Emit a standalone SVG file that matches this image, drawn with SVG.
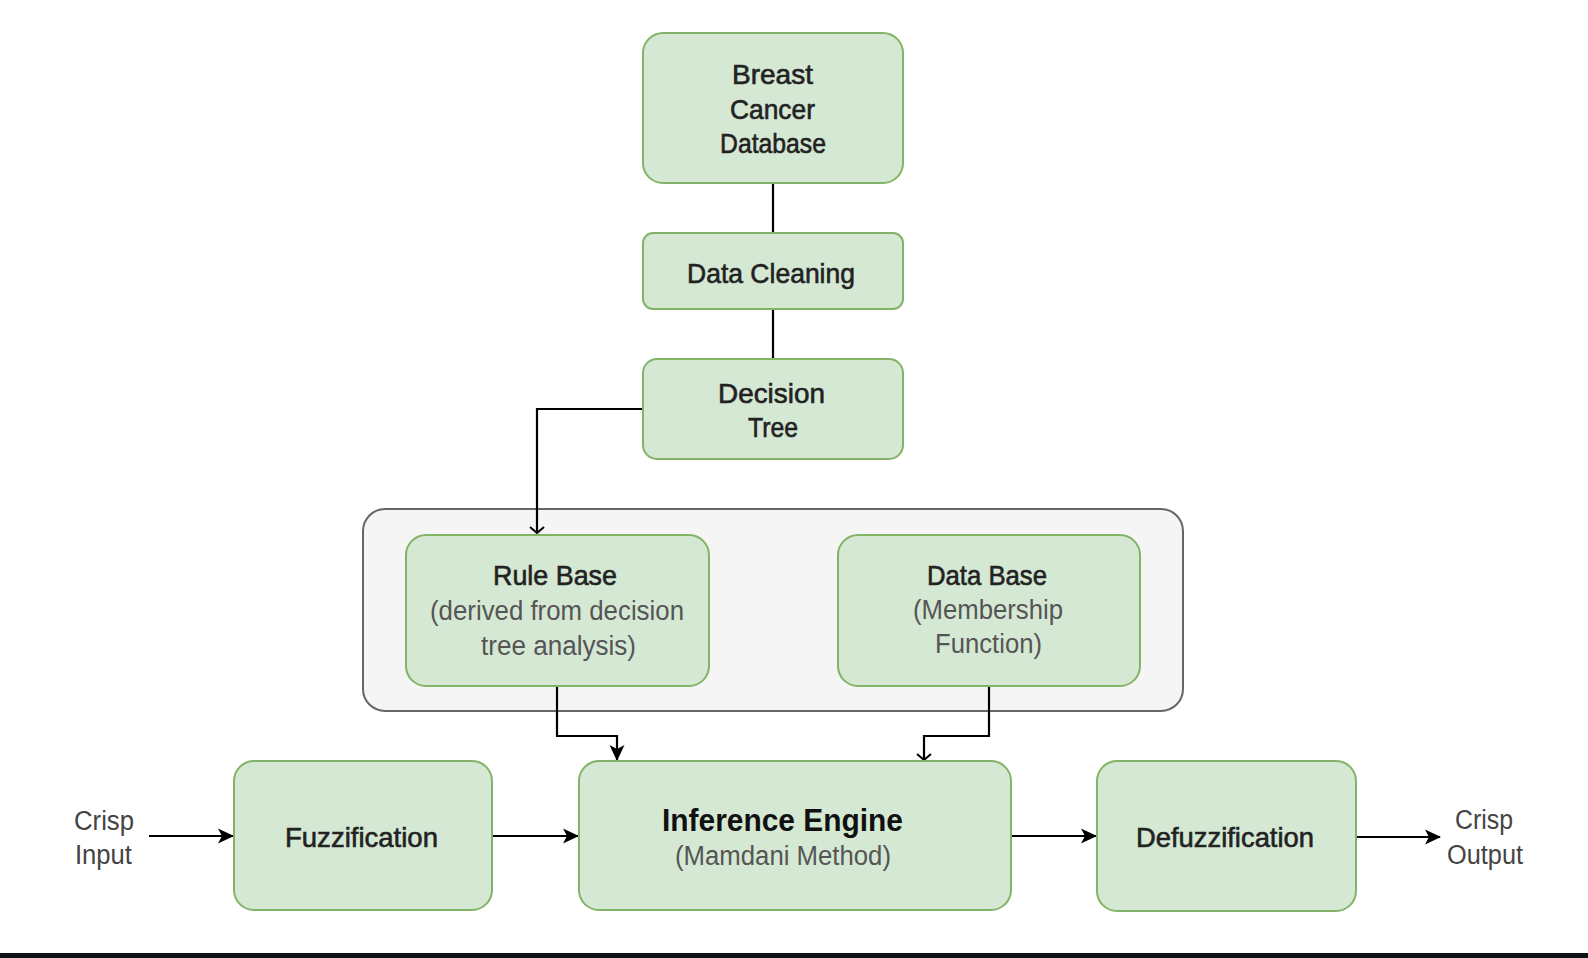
<svg xmlns="http://www.w3.org/2000/svg" width="1588" height="958" viewBox="0 0 1588 958">
<defs>
<style>
.box{fill:#d5e8d4;stroke:#82b366;stroke-width:2}
.cont{fill:#f5f5f5;stroke:#666666;stroke-width:2}
.t{font-family:"Liberation Sans",Arial,sans-serif;font-size:28px;fill:#222;stroke:#222;stroke-width:0.6;text-anchor:middle}
.big{font-family:"Liberation Sans",Arial,sans-serif;font-size:31px;font-weight:bold;fill:#111;text-anchor:middle}
.sub{font-family:"Liberation Sans",Arial,sans-serif;font-size:27px;fill:#555;text-anchor:middle}
.lbl{font-family:"Liberation Sans",Arial,sans-serif;font-size:27px;fill:#444;text-anchor:middle}
.c{fill:none;stroke:#000;stroke-width:2.2}
</style>
<marker id="blk" viewBox="0 0 16 16" refX="15" refY="8" markerWidth="16" markerHeight="16" markerUnits="userSpaceOnUse" orient="auto">
<path d="M0,0.5 L16,8 L0,15.5 L4,8 Z" fill="#000"/>
</marker>
<marker id="opn" viewBox="0 0 8 16" refX="7" refY="8" markerWidth="8" markerHeight="16" markerUnits="userSpaceOnUse" orient="auto">
<path d="M1,1 L7,8 L1,15" fill="none" stroke="#000" stroke-width="2"/>
</marker>
</defs>
<rect x="0" y="0" width="1588" height="958" fill="#ffffff"/>
<rect x="0" y="953" width="1588" height="5" fill="#0e1116"/>

<g id="container">
<rect class="cont" x="363" y="509" width="820" height="202" rx="22" ry="22"/>
</g>

<g id="connectors">
<path class="c" d="M773 183 V233"/>
<path class="c" d="M773 309 V359"/>
<path class="c" d="M643 409 H537 V533" marker-end="url(#opn)"/>
<path class="c" d="M557 686 V736 H617 V760" marker-end="url(#blk)"/>
<path class="c" d="M989 686 V736 H924 V760" marker-end="url(#opn)"/>
<path class="c" d="M149 836 H233" marker-end="url(#blk)"/>
<path class="c" d="M493 836 H578" marker-end="url(#blk)"/>
<path class="c" d="M1011 836 H1096" marker-end="url(#blk)"/>
<path class="c" d="M1356 837 H1440" marker-end="url(#blk)"/>
</g>

<g id="breast-cancer-database">
<rect class="box" x="643" y="33" width="260" height="150" rx="20" ry="20"/>
<text class="t" x="772.5" y="84" textLength="81" lengthAdjust="spacingAndGlyphs">Breast</text>
<text class="t" x="772.5" y="119" textLength="85" lengthAdjust="spacingAndGlyphs">Cancer</text>
<text class="t" x="773" y="153" textLength="106" lengthAdjust="spacingAndGlyphs">Database</text>
</g>

<g id="data-cleaning">
<rect class="box" x="643" y="233" width="260" height="76" rx="10" ry="10"/>
<text class="t" x="771" y="283" textLength="168" lengthAdjust="spacingAndGlyphs">Data Cleaning</text>
</g>

<g id="decision-tree">
<rect class="box" x="643" y="359" width="260" height="100" rx="14" ry="14"/>
<text class="t" x="771.5" y="403" textLength="107" lengthAdjust="spacingAndGlyphs">Decision</text>
<text class="t" x="773" y="437" textLength="50" lengthAdjust="spacingAndGlyphs">Tree</text>
</g>

<g id="rule-base">
<rect class="box" x="406" y="535" width="303" height="151" rx="20" ry="20"/>
<text class="t" x="555" y="585" textLength="124" lengthAdjust="spacingAndGlyphs">Rule Base</text>
<text class="sub" x="557" y="620" textLength="254" lengthAdjust="spacingAndGlyphs">(derived from decision</text>
<text class="sub" x="558.5" y="655" textLength="155" lengthAdjust="spacingAndGlyphs">tree analysis)</text>
</g>

<g id="data-base">
<rect class="box" x="838" y="535" width="302" height="151" rx="20" ry="20"/>
<text class="t" x="987" y="585" textLength="120" lengthAdjust="spacingAndGlyphs">Data Base</text>
<text class="sub" x="988" y="619" textLength="150" lengthAdjust="spacingAndGlyphs">(Membership</text>
<text class="sub" x="988.5" y="653" textLength="107" lengthAdjust="spacingAndGlyphs">Function)</text>
</g>

<g id="fuzzification">
<rect class="box" x="234" y="761" width="258" height="149" rx="20" ry="20"/>
<text class="t" x="361.5" y="847" textLength="153" lengthAdjust="spacingAndGlyphs">Fuzzification</text>
</g>

<g id="inference-engine">
<rect class="box" x="579" y="761" width="432" height="149" rx="20" ry="20"/>
<text class="big" x="782.5" y="831" textLength="241" lengthAdjust="spacingAndGlyphs">Inference Engine</text>
<text class="sub" x="783" y="865" textLength="216" lengthAdjust="spacingAndGlyphs">(Mamdani Method)</text>
</g>

<g id="defuzzification">
<rect class="box" x="1097" y="761" width="259" height="150" rx="20" ry="20"/>
<text class="t" x="1225" y="847" textLength="178" lengthAdjust="spacingAndGlyphs">Defuzzification</text>
</g>

<g id="crisp-input">
<text class="lbl" x="104" y="830" textLength="60" lengthAdjust="spacingAndGlyphs">Crisp</text>
<text class="lbl" x="103.5" y="864" textLength="57" lengthAdjust="spacingAndGlyphs">Input</text>
</g>

<g id="crisp-output">
<text class="lbl" x="1484" y="829" textLength="58" lengthAdjust="spacingAndGlyphs">Crisp</text>
<text class="lbl" x="1485" y="864" textLength="76" lengthAdjust="spacingAndGlyphs">Output</text>
</g>
</svg>
